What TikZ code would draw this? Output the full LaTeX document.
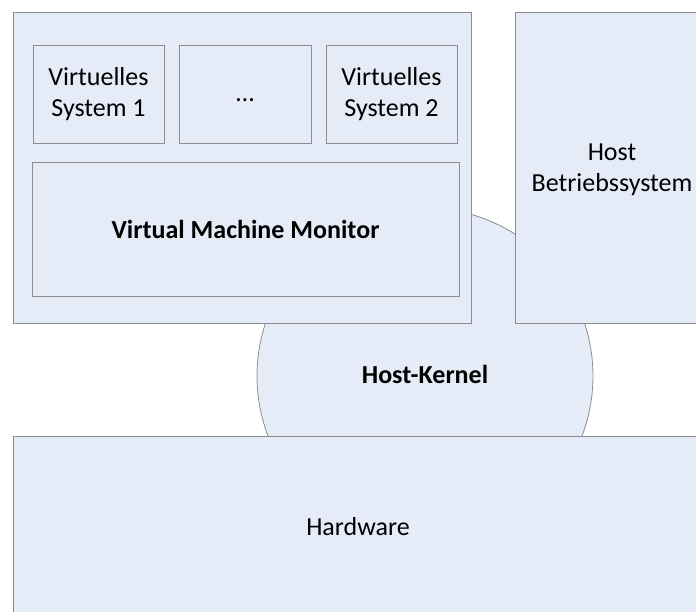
\documentclass[tikz,border=0pt]{standalone}
\usepackage{fontspec}
\setmainfont{Carlito}
\definecolor{boxfill}{RGB}{230,236,247}
\definecolor{boxline}{RGB}{140,140,145}
\begin{document}
\begin{tikzpicture}[x=1pt,y=-1pt,
  box/.style={draw=boxline, fill=boxfill, line width=1pt, rectangle, anchor=north west,
    inner sep=0pt},
  label/.style={font=\fontsize{26}{31.5}\selectfont, align=center, inner sep=0pt},
  boldlabel/.style={label, font=\fontsize{26}{31.5}\selectfont\bfseries}]
\useasboundingbox (0,0) rectangle (696,612);
% kernel circle behind everything
\node[draw=boxline, fill=boxfill, line width=0.8pt, circle, minimum size=336pt, inner sep=0pt] (kernel) at (425,376) {};
\node[boldlabel] (kernellabel) at (425,374) {Host-Kernel};
% virtualization side
\node[box, minimum width=458pt, minimum height=311pt] (vmmhost) at (13,12) {};
\node[box, minimum width=131pt, minimum height=98pt] (vs1) at (33,45) {};
\node[label] (vs1t) at (98.5,94) {Virtuelles\\System 1};
\node[box, minimum width=132pt, minimum height=98pt] (vsdots) at (179,45) {};
\node[label, anchor=base] (vsdotst) at (245,101.5) {…};
\node[box, minimum width=131pt, minimum height=98pt] (vs2) at (326,45) {};
\node[label] (vs2t) at (391.5,94) {Virtuelles\\System 2};
\node[box, minimum width=427pt, minimum height=134pt] (vmm) at (32,162) {};
\node[boldlabel] (vmmt) at (245.5,229) {Virtual Machine Monitor};
% host operating system
\node[box, minimum width=200pt, minimum height=311pt] (hostos) at (515,12) {};
\node[label] (hostost) at (612,170) {Host\\Betriebssystem};
% hardware
\node[box, minimum width=700pt, minimum height=190pt] (hw) at (13,436) {};
\node[label] (hwt) at (358,527) {Hardware};
\end{tikzpicture}
\end{document}
